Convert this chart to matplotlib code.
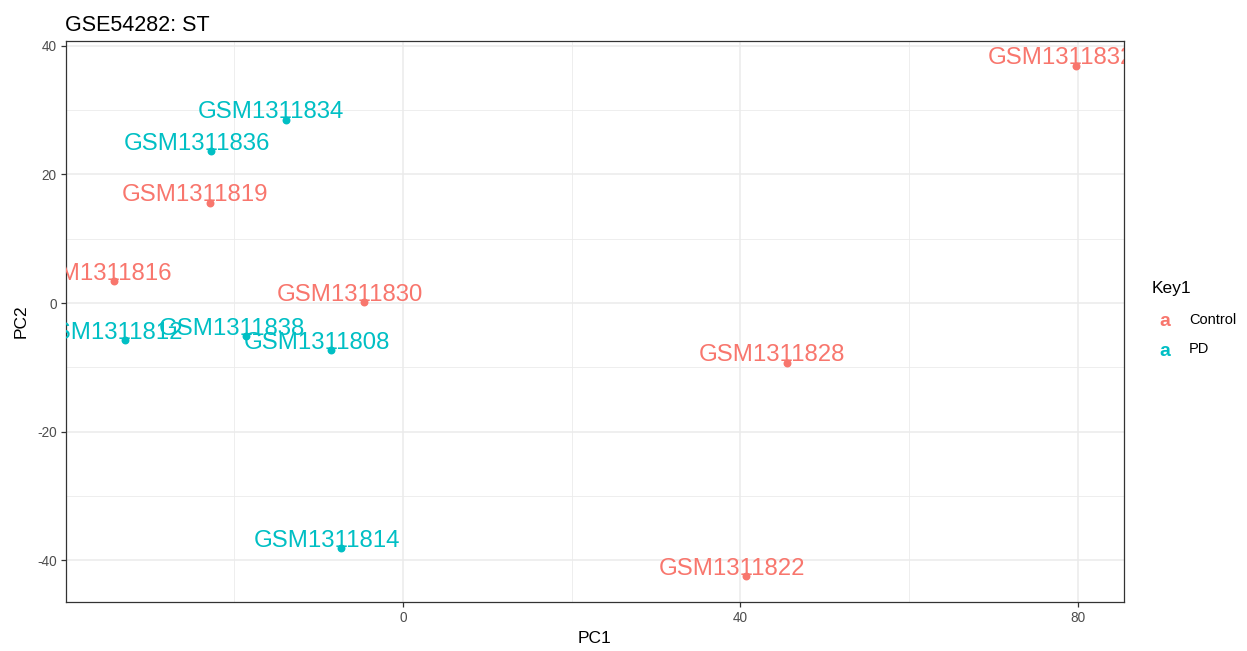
import numpy as np
import matplotlib.pyplot as plt

# donnees
echantillons = ['GSM1311832', 'GSM1311834', 'GSM1311836', 'GSM1311819', 'GSM1311816',
                'GSM1311830', 'GSM1311812', 'GSM1311838', 'GSM1311808', 'GSM1311828',
                'GSM1311814', 'GSM1311822']
pc1 = [79.8, -13.9, -22.7, -22.9, -34.3, -4.6, -33.0, -18.6, -8.5, 45.5, -7.3, 40.7]
pc2 = [36.9, 28.5, 23.6, 15.6, 3.4, 0.1, -5.8, -5.2, -7.3, -9.3, -38.1, -42.5]
groupe = ['Control', 'PD', 'PD', 'Control', 'Control', 'Control', 'PD', 'PD', 'PD',
          'Control', 'PD', 'Control']
niveaux = ['Control', 'PD']
couleurs = {'Control': '#F8766D', 'PD': '#00BFC4'}

plt.rcParams['font.family'] = ['Liberation Sans', 'DejaVu Sans']
plt.rcParams['axes.unicode_minus'] = False

fig = plt.figure(figsize=(12.47, 6.51), dpi=100)
ax = fig.add_axes([0.0527, 0.0753, 0.8487, 0.8617])

ax.set_xlim(-39.98, 85.5)
ax.set_ylim(-46.5, 40.75)

# grille facon theme_bw
ax.set_xticks([0, 40, 80])
ax.set_xticks([-20, 20, 60], minor=True)
ax.set_yticks([-40, -20, 0, 20, 40])
ax.set_yticks([-30, -10, 10, 30], minor=True)
ax.grid(which='major', color='#EBEBEB', lw=1.1)
ax.grid(which='minor', color='#EBEBEB', lw=0.6)
ax.set_axisbelow(True)
for s in ax.spines.values():
    s.set_color('#333333')
    s.set_linewidth(0.9)
ax.tick_params(which='major', length=3.5, width=0.9, color='#333333',
               labelsize=9.8, labelcolor='#4D4D4D', pad=3)
ax.tick_params(which='minor', length=0)

for x, y, nom, g in zip(pc1, pc2, echantillons, groupe):
    c = couleurs[g]
    ax.scatter(x, y, s=22, color=c, zorder=3, clip_on=True)
    ax.annotate(nom, (x, y), xytext=(-10.5, 1), textcoords='offset points',
                ha='center', va='baseline', fontsize=17.3, color=c,
                annotation_clip=False, clip_on=True)

ax.set_xlabel('PC1', fontsize=12.5, labelpad=4)
ax.set_ylabel('PC2', fontsize=12.5, labelpad=6)
ax.set_title('GSE54282: ST', fontsize=15.5, loc='left', x=-0.0005, pad=7)

# legende
fig.text(1152 / 1247, 1 - 289 / 651, 'Key1', fontsize=12.5, va='center', ha='left')
for i, niv in enumerate(niveaux):
    yy = 1 - (322 + 29 * i) / 651
    fig.text(1165 / 1247, yy, 'a', fontsize=14, fontweight='bold',
             color=couleurs[niv], ha='center', va='center')
    fig.text(1189 / 1247, yy + 0.003, niv, fontsize=10.5, ha='left', va='center')

fig.savefig('out.png', dpi=100)
